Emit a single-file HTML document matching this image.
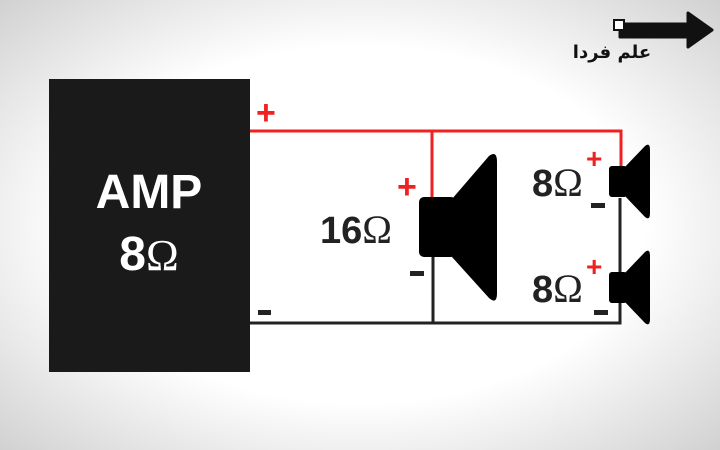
<!DOCTYPE html><html><head><style>body{margin:0}svg{display:block}</style></head><body>
<svg width="720" height="450" xmlns="http://www.w3.org/2000/svg" font-family="Liberation Sans, DejaVu Sans, sans-serif">
<defs><radialGradient id="bg" cx="50%" cy="50%" r="72%"><stop offset="0.55" stop-color="#fff"/><stop offset="1" stop-color="#cfcfcf"/></radialGradient></defs>
<rect width="720" height="450" fill="url(#bg)"/>
<rect x="49" y="79" width="201" height="293" fill="#1a1a1a"/>
<text x="149" y="208" fill="#fff" font-size="48" font-weight="bold" text-anchor="middle">AMP</text>
<text x="149" y="270" fill="#fff" font-size="48" font-weight="bold" text-anchor="middle">8<tspan font-family="Liberation Serif, serif" font-weight="normal" font-size="44">Ω</tspan></text>
<g fill="none" stroke-width="3">
<path d="M250 131H621V168M432 131V198" stroke="#ee2222"/>
<path d="M250 323H620V198M433 257V323" stroke="#222"/>
</g>
<rect x="419" y="197" width="37" height="60" rx="5" fill="#000"/>
<path d="M452 199L489 156Q497 150 497 162V293Q497 305 489 298L452 257Z" fill="#000"/>
<rect x="609" y="166" width="18" height="31" rx="3" fill="#000"/>
<path d="M624 168L645 146Q650 142 650 150V213Q650 221 645 217L624 195Z" fill="#000"/>
<rect x="609" y="272" width="18" height="31" rx="3" fill="#000"/>
<path d="M624 274L645 252Q650 248 650 256V319Q650 327 645 323L624 301Z" fill="#000"/>
<g font-weight="bold" font-size="38" fill="#222">
<text x="320" y="243">16<tspan font-family="Liberation Serif, serif" font-weight="normal" font-size="40">Ω</tspan></text>
<text x="532" y="196">8<tspan font-family="Liberation Serif, serif" font-weight="normal" font-size="40">Ω</tspan></text>
<text x="532" y="302">8<tspan font-family="Liberation Serif, serif" font-weight="normal" font-size="40">Ω</tspan></text>
</g>
<g fill="#ee2222" font-weight="bold" font-size="34">
<text x="256" y="124">+</text><text x="397" y="198">+</text>
<text x="586" y="168" font-size="28">+</text><text x="586" y="276" font-size="28">+</text>
</g>
<g fill="#222">
<rect x="258" y="310" width="13" height="5"/><rect x="410" y="271" width="14" height="5"/>
<rect x="591" y="203" width="14" height="5"/><rect x="594" y="310" width="14" height="5"/>
</g>
<path d="M620 24H688V13L712 30L688 47V37H620Z" fill="#111" stroke="#111" stroke-width="3" stroke-linejoin="round"/>
<rect x="614" y="20" width="10" height="10" fill="#fff" stroke="#111" stroke-width="2"/>
<text x="612" y="58" font-size="18" font-weight="bold" fill="#111" text-anchor="middle" font-family="DejaVu Sans, sans-serif">علم فردا</text>
</svg>
</body></html>
